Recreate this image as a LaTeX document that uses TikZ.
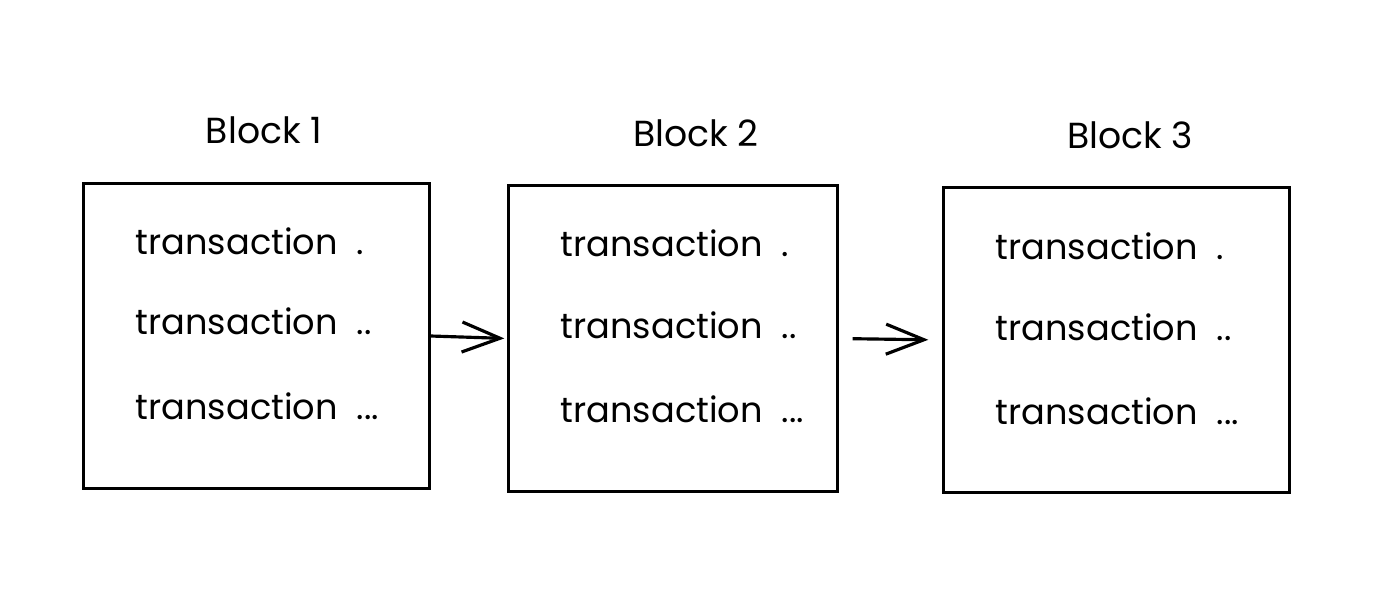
\documentclass[tikz,border=0pt]{standalone}
\usepackage{fontspec}
\setmainfont{Poppins}
\usetikzlibrary{arrows.meta}
\begin{document}
\begin{tikzpicture}[x=0.01cm,y=-0.01cm,
  blockbox/.style={draw, line width=0.9pt, inner sep=0pt},
  title/.style={anchor=base, font=\fontsize{10.3}{12}\selectfont},
  tx/.style={anchor=base west, font=\fontsize{10}{12}\selectfont, inner sep=0pt},
  link/.style={line width=0.9pt, -{Straight Barb[length=0.38cm, width=0.3cm, line width=0.9pt]}}]
\useasboundingbox (0,0) rectangle (1400,597);
% boxes
\node[blockbox, minimum width=3.45cm, minimum height=3.04cm] (b1) at (256.5,336) {};
\node[blockbox, minimum width=3.28cm, minimum height=3.05cm] (b2) at (673,338.5) {};
\node[blockbox, minimum width=3.45cm, minimum height=3.04cm] (b3) at (1116.5,340) {};
% titles
\node[title] (t1) at (264,143) {Block 1};
\node[title] (t2) at (696,146) {Block 2};
\node[title] (t3) at (1130,148) {Block 3};
% transactions
\node[tx] (a1) at (135,254) {transaction \ .};
\node[tx] (a2) at (135,334) {transaction \ ..};
\node[tx] (a3) at (135,419) {transaction \ ...};
\node[tx] (c1) at (560,256) {transaction \ .};
\node[tx] (c2) at (560,338) {transaction \ ..};
\node[tx] (c3) at (560,422) {transaction \ ...};
\node[tx] (d1) at (995,259) {transaction \ .};
\node[tx] (d2) at (995,340) {transaction \ ..};
\node[tx] (d3) at (995,424) {transaction \ ...};
% arrows
\draw[link, shorten >=0.03cm] (b1.east) -- (b2.west);
\draw[link, shorten <=0.14cm, shorten >=0.14cm] (b2.east) -- (b3.west);
\end{tikzpicture}
\end{document}
